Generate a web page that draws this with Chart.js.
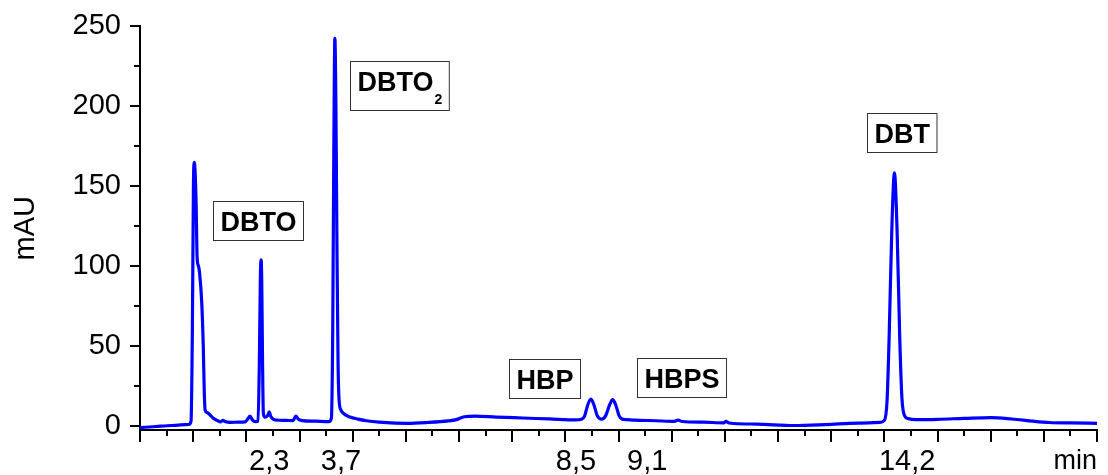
<!DOCTYPE html>
<html>
<head>
<meta charset="utf-8">
<script src="https://cdn.jsdelivr.net/npm/chart.js@4.4.0/dist/chart.umd.min.js"></script>
<style>
  body { margin: 0; background: #fff; }
  #wrap { width: 1108px; height: 475px; }
</style>
</head>
<body>
<div id="wrap"><canvas id="chroma" width="1108" height="475"></canvas></div>
<script>
// Chromatogram trace (time in min, signal in mAU)
const timeMin = [
  0.00, 0.30, 0.60, 0.92, 0.96, 0.985, 1.005, 1.018, 1.035, 1.055, 1.075, 1.10, 1.12, 1.16, 1.19, 1.21, 1.225,
  1.26, 1.30, 1.38, 1.45, 1.52, 1.56, 1.60, 1.70, 1.85, 1.98, 2.03, 2.07, 2.11, 2.17,
  2.22, 2.245, 2.265, 2.278, 2.29, 2.305, 2.32, 2.35, 2.40, 2.43, 2.46, 2.51, 2.60, 2.75, 2.88, 2.93, 2.98, 3.05,
  3.30, 3.55, 3.60, 3.625, 3.645, 3.665, 3.685, 3.705, 3.725, 3.745, 3.78, 3.84, 3.95, 4.10, 4.26, 4.50, 4.80,
  5.02, 5.40, 5.80, 5.95, 6.10, 6.30, 6.70, 7.20, 7.70, 8.20,
  8.30, 8.36, 8.42, 8.48, 8.54, 8.60, 8.68, 8.76, 8.83, 8.89, 8.95, 9.01, 9.07, 9.15,
  9.30, 9.70, 10.05, 10.12, 10.20, 10.60, 10.98, 11.02, 11.08, 11.60, 12.30, 12.90, 13.50, 13.92,
  14.00, 14.05, 14.09, 14.14, 14.19, 14.24, 14.29, 14.33, 14.38, 14.45, 14.60,
  15.00, 15.50, 16.00, 16.40, 16.80, 17.10, 17.50, 18.00
];
const signalMau = [
  -1.0, -0.3, 0.3, 1.0, 3, 60, 150, 165, 160, 140, 105, 100, 96, 78, 50, 20, 10,
  8.5, 7.5, 4.8, 3.5, 2.6, 3.6, 2.8, 2.3, 2.4, 2.6, 4.5, 6.2, 4.0, 2.7,
  3.0, 40, 95, 104, 90, 40, 8, 5.5, 6.5, 8.8, 6, 4.2, 3.6, 3.5, 3.4, 6.2, 4.2, 3.4,
  3.0, 2.7, 5, 60, 170, 242.5, 200, 110, 40, 16, 10, 7.5, 5.6, 4.3, 3.3, 2.4, 1.8,
  1.7, 2.2, 3.2, 4.0, 5.8, 6.2, 5.6, 5.0, 4.4, 3.8,
  4.2, 6, 13, 16.9, 13, 6.5, 4.3, 6.5, 13, 16.5, 13, 6.5, 4.3, 4.0,
  3.7, 3.3, 2.9, 3.7, 2.8, 2.4, 2.0, 2.9, 1.9, 1.2, 0.3, 0.9, 1.8, 2.3,
  3.5, 15, 55, 122, 158.4, 122, 55, 18, 6.5, 4.6, 4.0,
  4.2, 4.8, 5.3, 4.4, 3.0, 2.2, 1.9, 1.7
];

// Y axis labelled ticks (mAU)
const yTicks = [0, 50, 100, 150, 200, 250];

// Retention-time labels under the axis, and where their centres sit (min)
const rtLabels = ['2,3', '3,7', '8,5', '9,1', '14,2'];
const rtLabelAt = [2.43, 3.78, 8.2, 9.54, 14.43];

// Boxed compound names: text, subscript, centre time (min), centre level (mAU)
const peakNames = ['DBTO', 'DBTO', 'HBP', 'HBPS', 'DBT'];
const peakSubs = ['', '2', '', '', ''];
const peakNameAt = [2.216, 4.88, 7.61, 10.18, 14.33];
const peakNameLevel = [128.4, 213.3, 30, 30.5, 183.5];

const FONT = '"Liberation Sans", Arial, sans-serif';

const points = timeMin.map((t, i) => ({ x: t, y: signalMau[i] }));

// minor ticks, retention-time labels and the boxed names
const extras = {
  id: 'extras',
  afterDraw(chart) {
    const ctx = chart.ctx;
    const xs = chart.scales.x, ys = chart.scales.y;
    ctx.save();

    ctx.strokeStyle = '#000';
    ctx.lineWidth = 2;
    ctx.beginPath();
    for (let t = 0.5; t < 18; t += 1) {
      const px = Math.round(xs.getPixelForValue(t));
      ctx.moveTo(px, xs.top);
      ctx.lineTo(px, xs.top + 6);
    }
    for (let v = 25; v < 250; v += 50) {
      const py = Math.round(ys.getPixelForValue(v));
      ctx.moveTo(ys.right, py);
      ctx.lineTo(ys.right - 6, py);
    }
    ctx.stroke();

    ctx.fillStyle = '#000';
    ctx.font = '29px ' + FONT;
    ctx.textAlign = 'center';
    ctx.textBaseline = 'alphabetic';
    rtLabels.forEach((lab, i) => {
      ctx.fillText(lab, xs.getPixelForValue(rtLabelAt[i]), xs.top + 40);
    });

    ctx.textAlign = 'left';
    peakNames.forEach((name, i) => {
      const sub = peakSubs[i];
      ctx.font = 'bold 27px ' + FONT;
      const w = ctx.measureText(name).width;
      ctx.font = 'bold 14px ' + FONT;
      const sw = sub ? ctx.measureText(sub).width + 1 : 0;
      const bw = w + sw + 14;
      const bh = sub ? 49 : 39;
      const cx = xs.getPixelForValue(peakNameAt[i]);
      const cy = ys.getPixelForValue(peakNameLevel[i]);
      const bx = Math.round(cx - bw / 2) + 0.5;
      const by = Math.round(cy - bh / 2) + 0.5;
      ctx.fillStyle = '#fff';
      ctx.fillRect(bx, by, bw, bh);
      ctx.strokeStyle = '#333';
      ctx.lineWidth = 1;
      ctx.strokeRect(bx, by, bw, bh);
      ctx.fillStyle = '#000';
      ctx.font = 'bold 27px ' + FONT;
      ctx.fillText(name, bx + 7, by + 29);
      if (sub) {
        ctx.font = 'bold 14px ' + FONT;
        ctx.fillText(sub, bx + 7 + w + 1, by + 42);
      }
    });

    ctx.restore();
  }
};

new Chart(document.getElementById('chroma'), {
  type: 'line',
  data: {
    datasets: [{
      data: points,
      borderColor: '#0000ff',
      borderWidth: 3.2,
      pointRadius: 0,
      cubicInterpolationMode: 'monotone',
      fill: false
    }]
  },
  options: {
    responsive: false,
    animation: false,
    layout: { padding: { top: 25.7, right: 11, left: 0, bottom: 0 } },
    plugins: { legend: { display: false }, tooltip: { enabled: false } },
    scales: {
      x: {
        type: 'linear',
        min: 0,
        max: 18,
        afterFit(scale) { scale.height = 45; },
        ticks: { display: false, stepSize: 1 },
        grid: { drawOnChartArea: false, drawTicks: true, tickLength: 12, color: '#000', lineWidth: 2 },
        border: { display: true, color: '#000', width: 2 },
        title: {
          display: true, text: 'min', align: 'end', color: '#000',
          font: { family: FONT, size: 27, lineHeight: 1 },
          padding: { top: 0, bottom: 0 }
        }
      },
      y: {
        min: -2.5,
        max: 250,
        afterFit(scale) { scale.width = 140; },
        afterBuildTicks(scale) { scale.ticks = yTicks.map(v => ({ value: v })); },
        ticks: {
          color: '#000', padding: 9,
          font: { family: FONT, size: 29 }
        },
        grid: { drawOnChartArea: false, drawTicks: true, tickLength: 10, color: '#000', lineWidth: 2 },
        border: { display: true, color: '#000', width: 2 },
        title: {
          display: true, text: 'mAU', color: '#000',
          font: { family: FONT, size: 29, lineHeight: 1 },
          padding: { top: 11, bottom: 0 }
        }
      }
    }
  },
  plugins: [extras]
});
</script>
</body>
</html>
